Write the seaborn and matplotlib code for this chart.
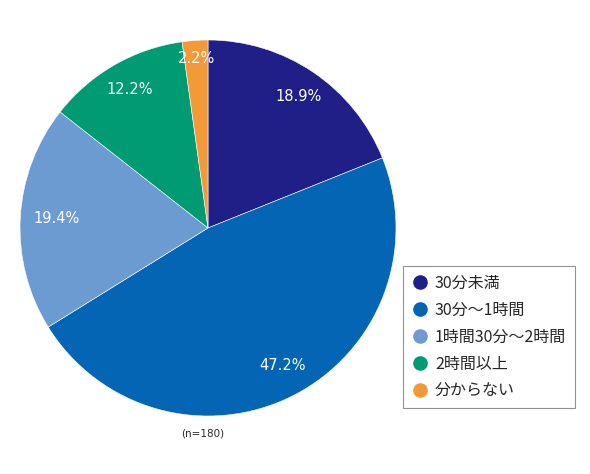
import matplotlib
matplotlib.use('Agg')
import matplotlib.pyplot as plt
import seaborn as sns
from matplotlib.lines import Line2D

labels = ['30分未満', '30分～1時間', '1時間30分～2時間', '2時間以上', '分からない']
values = [18.9, 47.2, 19.4, 12.2, 2.2]
colors = ['#1f1f87', '#0465b5', '#6c9bd2', '#009b72', '#f39937']
# label positions in pie units (radius = 1)
label_pos = [(0.484, 0.697), (0.394, -0.729), (-0.803, 0.053), (-0.415, 0.739), (-0.059, 0.904)]

sns.set_theme(style='white')
plt.rcParams['font.family'] = ['Noto Sans CJK JP', 'DejaVu Sans']

fig = plt.figure(figsize=(5.9, 4.74), dpi=100)
ax = fig.add_axes([20 / 590, 1 - 416 / 474, 376 / 590, 376 / 474])

wedges, _ = ax.pie(values, colors=colors, startangle=90, counterclock=False,
                   wedgeprops=dict(edgecolor='white', linewidth=0.4))
ax.set_xlim(-1, 1)
ax.set_ylim(-1, 1)
ax.set_aspect('equal')

for v, (x, y) in zip(values, label_pos):
    ax.text(x, y, f'{v}%', color='white', fontsize=10.5, ha='center', va='center',
            family='DejaVu Sans')

fig.text(203 / 590, 1 - 433 / 474, '(n=180)', fontsize=7.5, ha='center', va='center',
         family='DejaVu Sans')

handles = [Line2D([], [], marker='o', linestyle='', markersize=9.5,
                  markerfacecolor=c, markeredgecolor=c) for c in colors]
leg = fig.legend(handles, labels, loc='upper left',
                 bbox_to_anchor=(403 / 590, 1 - 266 / 474),
                 frameon=True, fancybox=False, fontsize=11.5,
                 handletextpad=0.45, labelspacing=0.62, borderpad=0.55,
                 handlelength=1.0, borderaxespad=0)
leg.get_frame().set_edgecolor('#777777')
leg.get_frame().set_linewidth(0.8)

fig.savefig('out.png', dpi=100)
